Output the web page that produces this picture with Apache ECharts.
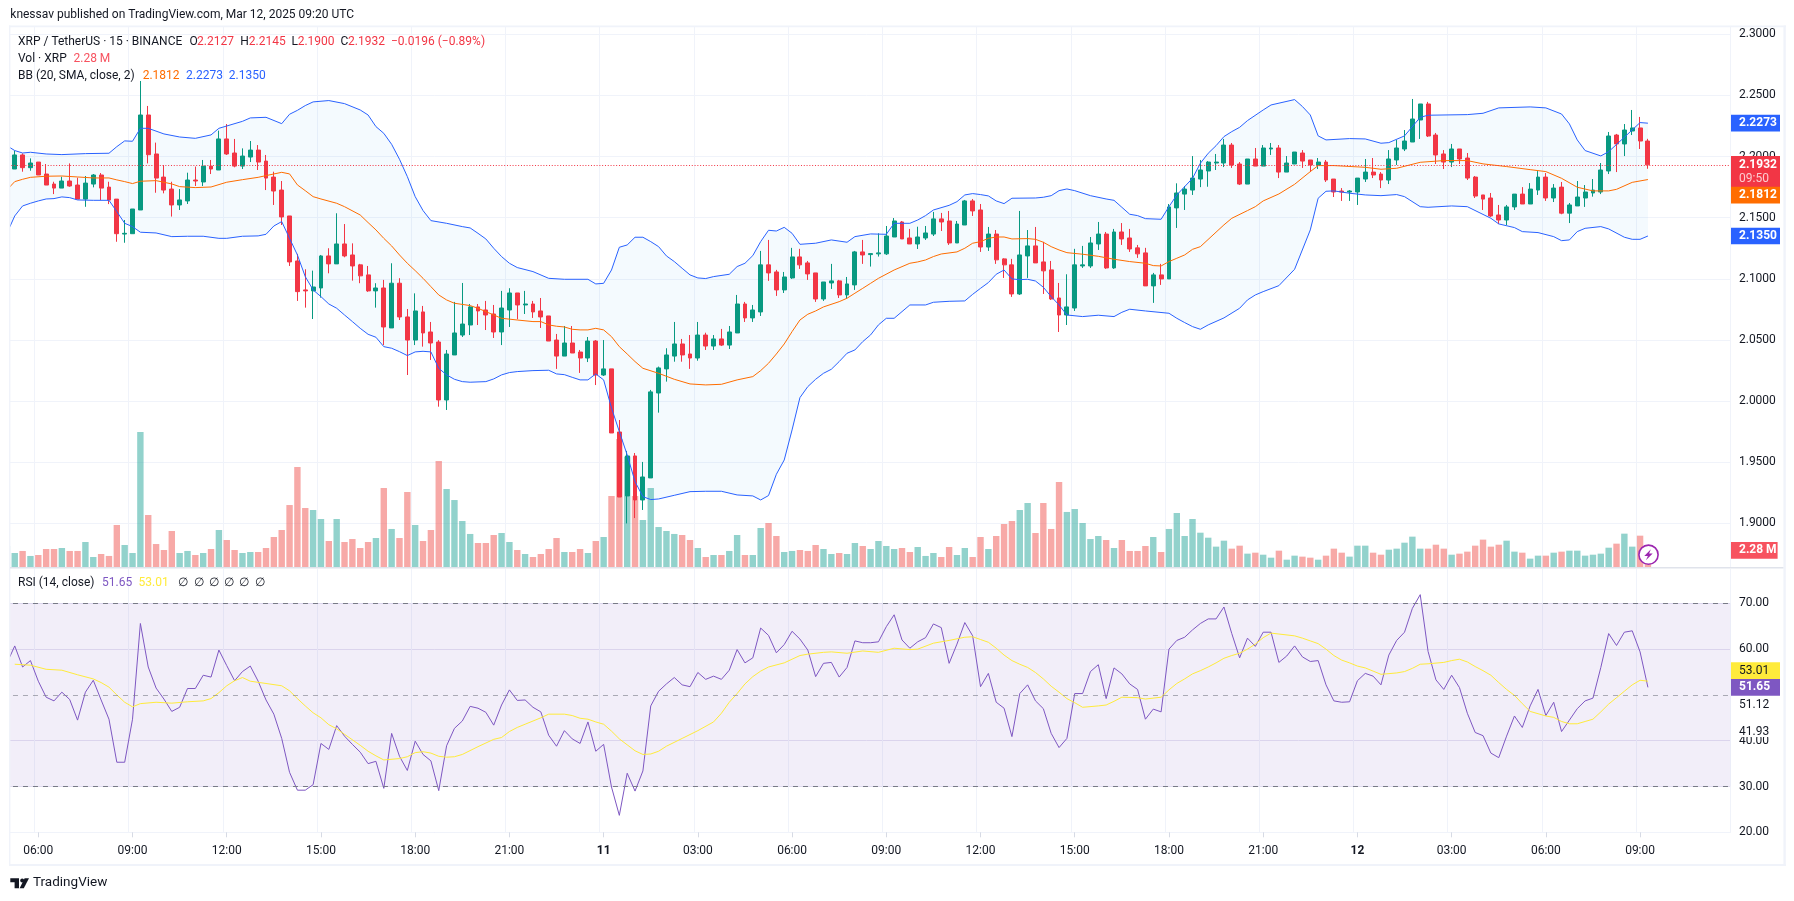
<!DOCTYPE html>
<html>
<head>
<meta charset="utf-8">
<title>XRP / TetherUS 15m</title>
<style>
  html, body { margin: 0; padding: 0; background: #fff; }
  #chart { width: 1794px; height: 901px; }
</style>
<script src="https://cdn.jsdelivr.net/npm/echarts@6/dist/echarts.min.js"></script>
</head>
<body>
<div id="chart"></div>
<script>
// [open, close, low, high], one row per 15 minute bar from Mar 10 05:00
const candles = [
[2.2,2.203,2.195,2.206],[2.1898,2.2013,2.1898,2.2048],[2.2013,2.1909,2.1876,2.2026],[2.1909,2.1947,2.1884,2.1985],[2.1955,2.1849,2.1849,2.1955],
[2.1857,2.1767,2.1767,2.1939],[2.1775,2.1742,2.1693,2.1794],[2.1742,2.18,2.1742,2.1835],[2.18,2.1759,2.1753,2.1944],[2.1767,2.1652,2.1652,2.1827],
[2.1652,2.1783,2.1589,2.1841],[2.1775,2.1849,2.1748,2.1857],[2.1849,2.1742,2.1644,2.1865],[2.175,2.1644,2.1611,2.1794],[2.1652,2.1369,2.1303,2.1652],
[2.1366,2.1372,2.1295,2.1481],[2.1369,2.1571,2.1369,2.1571],[2.1563,2.234,2.1563,2.2618],[2.234,2.2015,2.1944,2.2414],[2.2021,2.1824,2.1704,2.2114],
[2.1832,2.1726,2.1699,2.1931],[2.1734,2.1604,2.1509,2.1794],[2.1604,2.1645,2.1563,2.1734],[2.1637,2.1808,2.1612,2.1868],[2.1808,2.18,2.1759,2.1918],
[2.1792,2.1922,2.1759,2.1972],[2.1922,2.1898,2.1857,2.1972],[2.189,2.2144,2.189,2.2212],[2.2144,2.2021,2.2013,2.2266],[2.2029,2.1922,2.1912,2.2144],
[2.1922,2.2004,2.1898,2.2067],[2.1996,2.2053,2.1955,2.2127],[2.2053,2.1955,2.189,2.2094],[2.1963,2.1824,2.1726,2.2013],[2.1832,2.1718,2.1604,2.1876],
[2.1726,2.1506,2.144,2.18],[2.1514,2.1138,2.1105,2.1514],[2.1146,2.0895,2.0819,2.1204],[2.0909,2.0901,2.0764,2.1078],[2.0901,2.0933,2.0671,2.1067],
[2.0925,2.1187,2.0846,2.1195],[2.1187,2.1122,2.1045,2.125],[2.1122,2.1285,2.1122,2.1536],[2.1285,2.1187,2.1176,2.1448],[2.1195,2.1105,2.0985,2.129],
[2.1114,2.1024,2.0964,2.1122],[2.1032,2.0901,2.0893,2.1105],[2.0901,2.0925,2.0764,2.0964],[2.0925,2.0606,2.0458,2.0991],[2.0598,2.0964,2.0598,2.1127],
[2.0964,2.0688,2.0663,2.1005],[2.0688,2.0499,2.0213,2.0753],[2.0499,2.0737,2.0458,2.0881],[2.0729,2.0557,2.0445,2.0778],[2.0565,2.0475,2.0336,2.0647],
[2.0483,2.0009,1.9954,2.0499],[2.0009,2.0385,1.9927,2.0418],[2.0377,2.0557,2.0377,2.0811],[2.054,2.063,2.0524,2.0966],[2.0622,2.077,2.054,2.0794],
[2.077,2.0737,2.0622,2.0794],[2.0745,2.0704,2.0581,2.0819],[2.0712,2.0565,2.0516,2.0786],[2.0565,2.0761,2.0458,2.0901],[2.0745,2.0884,2.0606,2.0923],
[2.0884,2.0786,2.0669,2.0884],[2.0786,2.0794,2.0712,2.0901],[2.0794,2.0729,2.068,2.0819],[2.0737,2.0688,2.0598,2.0843],[2.0696,2.0491,2.0491,2.0696],
[2.0499,2.0368,2.0263,2.0549],[2.0368,2.0475,2.0368,2.0614],[2.0475,2.0393,2.0393,2.0614],[2.0401,2.0352,2.023,2.0418],[2.0352,2.0491,2.0319,2.0524],
[2.0491,2.0213,2.0131,2.0499],[2.0213,2.0263,2.0205,2.0499],[2.0263,1.9739,1.9739,2.0263],[1.9747,1.9215,1.9215,1.9845],[1.9224,1.9551,1.8999,1.9592],
[1.9551,1.9191,1.9043,1.9575],[1.9191,1.9379,1.9109,1.9502],[1.9371,2.0075,1.9371,2.0091],[2.0066,2.0271,1.9905,2.0282],[2.0263,2.0377,2.0159,2.0432],
[2.0368,2.0467,2.0322,2.0647],[2.0467,2.0377,2.0322,2.0508],[2.0385,2.0352,2.0263,2.054],[2.0352,2.054,2.033,2.0647],[2.054,2.045,2.0418,2.0559],
[2.045,2.0508,2.0418,2.054],[2.0508,2.0458,2.045,2.059],[2.0458,2.0565,2.0426,2.0614],[2.0557,2.0794,2.0557,2.0868],[2.0794,2.068,2.0647,2.0811],
[2.068,2.0745,2.0647,2.0786],[2.0729,2.1114,2.0696,2.1228],[2.1114,2.1048,2.0983,2.1318],[2.1056,2.0909,2.086,2.1073],[2.0909,2.1015,2.0884,2.1056],
[2.1007,2.1179,2.0999,2.1253],[2.1179,2.1114,2.1081,2.1245],[2.113,2.104,2.0991,2.1146],[2.1048,2.0835,2.0811,2.1048],[2.0835,2.0974,2.0819,2.0974],
[2.0966,2.0983,2.0917,2.1122],[2.0983,2.0868,2.0843,2.0991],[2.0868,2.0958,2.0835,2.1015],[2.095,2.122,2.0909,2.1228],[2.122,2.1195,2.1122,2.1318],
[2.1198,2.1206,2.11,2.1206],[2.1204,2.1212,2.1182,2.1372],[2.1204,2.135,2.1195,2.1432],[2.1342,2.1473,2.1342,2.1497],[2.1465,2.1326,2.1326,2.1473],
[2.1334,2.1285,2.1285,2.1408],[2.1285,2.1342,2.1244,2.1426],[2.1334,2.1375,2.1318,2.1432],[2.1366,2.149,2.135,2.1547],[2.149,2.1465,2.1391,2.1539],
[2.1473,2.1293,2.1277,2.1555],[2.1293,2.1448,2.1293,2.1473],[2.144,2.1637,2.144,2.1645],[2.1637,2.1555,2.1514,2.1653],[2.1563,2.126,2.122,2.1612],
[2.126,2.1366,2.1228,2.1424],[2.1366,2.1155,2.1122,2.1399],[2.1163,2.1114,2.1007,2.1168],[2.1114,2.0876,2.0852,2.1163],[2.0876,2.1195,2.0868,2.1555],
[2.1187,2.1269,2.1007,2.1399],[2.1269,2.113,2.113,2.1424],[2.1138,2.1065,2.0876,2.1302],[2.1073,2.0835,2.0827,2.1146],[2.0843,2.0704,2.0565,2.0966],
[2.0704,2.077,2.0622,2.1037],[2.0761,2.1114,2.0737,2.1245],[2.1105,2.1114,2.1089,2.1269],[2.1105,2.1293,2.1089,2.1342],[2.1285,2.1366,2.1236,2.1465],
[2.1366,2.1089,2.1081,2.1383],[2.1089,2.1383,2.1081,2.1408],[2.1383,2.1326,2.1277,2.1456],[2.1334,2.1244,2.122,2.1408],[2.1253,2.1204,2.1171,2.1277],
[2.1212,2.0942,2.0942,2.1253],[2.0942,2.1032,2.0803,2.1048],[2.1032,2.0999,2.095,2.1122],[2.0999,2.1588,2.0999,2.1612],[2.158,2.1702,2.1416,2.1781],
[2.1693,2.1734,2.1563,2.1759],[2.1726,2.1824,2.1686,2.2004],[2.1816,2.189,2.175,2.1972],[2.1882,2.1955,2.1753,2.1963],[2.1947,2.1955,2.189,2.2021],
[2.1947,2.2094,2.1914,2.2144],[2.2094,2.1931,2.1907,2.2111],[2.1939,2.1775,2.1767,2.1955],[2.1775,2.198,2.1775,2.198],[2.198,2.1922,2.1922,2.207],
[2.1922,2.207,2.1922,2.2094],[2.2062,2.207,2.2013,2.2111],[2.207,2.1873,2.1824,2.2094],[2.1873,2.1947,2.1873,2.2004],[2.1939,2.2037,2.1939,2.2037],
[2.2029,2.1963,2.1907,2.2053],[2.1972,2.1931,2.1873,2.1972],[2.1931,2.1955,2.1898,2.1988],[2.1955,2.1808,2.1792,2.1972],[2.1816,2.171,2.1669,2.1816],
[2.1718,2.171,2.1637,2.1742],[2.171,2.1718,2.1637,2.1726],[2.171,2.1824,2.1604,2.1824],[2.1816,2.1873,2.1792,2.198],[2.1873,2.1849,2.1824,2.1988],
[2.1857,2.1808,2.1742,2.1873],[2.1808,2.198,2.1775,2.2053],[2.1972,2.207,2.1931,2.2135],[2.2062,2.2127,2.2045,2.2217],[2.2119,2.2307,2.2119,2.2471],
[2.2299,2.243,2.2144,2.243],[2.243,2.2168,2.216,2.2447],[2.2176,2.2013,2.1939,2.2193],[2.2021,2.1955,2.1898,2.2053],[2.1955,2.2062,2.1914,2.2103],
[2.2062,2.198,2.1939,2.2062],[2.1988,2.1824,2.1808,2.2029],[2.1832,2.1677,2.1661,2.1841],[2.1686,2.1652,2.1563,2.1686],[2.1661,2.1514,2.1506,2.1702],
[2.1522,2.1481,2.1448,2.1604],[2.1481,2.1588,2.144,2.1604],[2.1588,2.1693,2.1563,2.1693],[2.1693,2.1612,2.1612,2.175],[2.1612,2.1734,2.1612,2.1783],
[2.1726,2.1832,2.1686,2.1881],[2.1832,2.1661,2.1637,2.1865],[2.1661,2.1742,2.1628,2.1775],[2.175,2.1537,2.1528,2.1792],[2.1537,2.1604,2.1456,2.162],
[2.1596,2.1669,2.1596,2.18],[2.1661,2.171,2.1588,2.1767],[2.1702,2.1726,2.1672,2.1816],[2.171,2.189,2.1693,2.1947],[2.1882,2.2168,2.1857,2.2201],
[2.2176,2.2103,2.1873,2.2185],[2.2103,2.2217,2.2004,2.2266],[2.2209,2.2234,2.2176,2.2381],[2.2234,2.2127,2.2062,2.2324],[2.2127,2.1932,2.19,2.2145]
];

// volume per bar, millions of XRP
const volumes = [
2.82,1.88,2.15,1.48,1.61,2.41,2.41,2.55,2.15,2.15,3.35,1.34,1.74,1.48,5.63,2.95,1.88,18.1,6.97,3.08,
2.28,4.83,1.88,2.15,1.61,1.88,2.41,4.96,3.62,2.28,1.88,2.01,2.01,2.55,4.02,4.96,8.31,13.41,7.91,7.64,
6.44,3.49,6.44,3.35,3.75,2.55,3.35,3.89,10.59,5.10,3.89,10.06,5.63,3.49,4.96,14.21,10.46,8.98,6.17,4.43,
3.22,3.22,4.29,4.56,3.35,2.28,1.74,1.34,1.74,2.41,3.89,2.01,2.01,2.41,1.88,3.49,4.02,9.52,17.16,14.8,
9.52,6.3,10.59,5.36,4.83,4.43,4.29,3.62,2.55,1.34,1.61,1.61,2.15,4.29,1.61,1.61,5.23,5.9,4.16,2.01,
2.15,2.28,2.15,2.95,2.41,1.74,1.88,1.74,3.22,2.82,2.41,3.49,2.82,2.41,2.55,2.01,2.68,1.48,1.88,1.34,
2.68,1.61,2.55,1.34,4.02,2.41,4.16,5.77,6.17,7.64,8.58,4.56,8.58,5.10,11.4,7.38,7.78,5.9,3.75,4.16,
3.62,2.55,3.62,2.15,2.15,2.82,4.02,2.01,5.10,7.24,4.16,6.44,4.6,3.93,2.73,3.53,2.46,2.86,1.79,1.92,
1.65,1.25,2.19,0.98,1.52,1.39,1.25,0.98,1.52,2.46,1.92,1.39,2.86,2.86,1.92,1.65,2.32,2.46,3.26,4.07,
2.46,2.46,2.99,2.46,1.65,1.79,2.06,2.86,3.67,2.73,2.99,3.53,2.06,1.92,1.12,1.52,1.52,1.92,2.06,2.19,
2.19,1.52,1.65,1.79,2.59,3.13,4.47,2.73,4.2,2.28
];

// Bollinger bands, [bar index, price] at the points
const bbUpper = [
[0,2.2089],[1,2.2049],[2,2.2029],[3,2.2035],[5,2.2021],[7,2.2016],[10,2.2024],[13,2.2027],[14,2.2081],[15,2.2128],[16,2.2125],[17,2.2231],[18,2.2231],[20,2.2185],[22,2.216],[24,2.2149],[26,2.2177],[27,2.2231],[28,2.225],[30,2.2288],[31,2.2316],[33,2.2321],[35,2.2269],[36,2.2346],[37,2.2378],[38,2.2417],[39,2.2447],[41,2.2458],[43,2.2433],[45,2.2381],[46,2.234],[47,2.2245],[48,2.219],[49,2.21],[50,2.1978],[51,2.1836],[52,2.1672],[53,2.1558],[54,2.1476],[56,2.1454],[58,2.1427],[59,2.1416],[60,2.1372],[61,2.1326],[62,2.125],[63,2.1182],[64,2.1127],[65,2.1092],[67,2.1059],[69,2.1004],[71,2.0996],[74,2.0996],[75,2.0958],
[76,2.0963],[77,2.1072],[78,2.1258],[79,2.1277],[80,2.134],[81,2.134],[82,2.1304],[83,2.1263],[84,2.1187],[85,2.1141],[86,2.1086],[87,2.1032],[88,2.1007],[89,2.1002],[90,2.1018],[92,2.1037],[93,2.11],[94,2.1127],[95,2.119],[96,2.1304],[97,2.1397],[98,2.1391],[99,2.1421],[100,2.1372],[101,2.1282],[103,2.1291],[105,2.1318],[107,2.1299],[108,2.1345],[110,2.1367],[112,2.1364],[113,2.1454],[115,2.1454],[116,2.1481],[117,2.1517],[118,2.1563],[120,2.1601],[121,2.1631],[122,2.1686],[123,2.1697],[124,2.1689],[125,2.1678],[126,2.1637],[127,2.1615],[128,2.1659],[131,2.1661],[132,2.1667],[133,2.168],[134,2.1721],[135,2.1735],[136,2.1721],[138,2.168],[140,2.1653],[141,2.1642],[142,2.1585],[143,2.1528],[144,2.1517],[145,2.1492],[147,2.1487],[148,2.159],[149,2.1686],[151,2.1822],[152,2.1945],[153,2.2027],[154,2.2089],[155,2.2163],[156,2.2204],[157,2.2239],[158,2.2294],[160,2.2381],[161,2.2422],[164,2.2466],[165,2.2409],[166,2.234],[167,2.2169],[168,2.2136],[171,2.2147],[173,2.2144],[175,2.2109],[176,2.2114],[178,2.2169],[180,2.2321],[181,2.2338],[186,2.2343],[188,2.2354],[190,2.2398],[194,2.2406],[196,2.2398],[198,2.2348],[199,2.2267],[200,2.2136],[201,2.2049],[203,2.2005],[204,2.204],[206,2.2158],[208,2.2278],[209,2.2273]
];
const bbLower = [
[0,2.1372],[1,2.1514],[2,2.1596],[3,2.1618],[4,2.1637],[5,2.1653],[6,2.1656],[7,2.167],[8,2.1664],[9,2.1645],[11,2.1642],[13,2.1642],[14,2.155],[15,2.1454],[16,2.1427],[17,2.1381],[19,2.1375],[21,2.1345],[23,2.1348],[25,2.1348],[27,2.1331],[28,2.1331],[30,2.1348],[32,2.1351],[33,2.1364],[34,2.1432],[35,2.1468],[36,2.1331],[37,2.1195],[38,2.1018],[39,2.0909],[40,2.0854],[41,2.0794],[42,2.0759],[43,2.0704],[44,2.065],[45,2.0595],[46,2.0546],[47,2.0522],[48,2.0445],[49,2.0432],[50,2.0404],[51,2.0372],[52,2.0402],[53,2.0407],[54,2.0402],[55,2.0268],[56,2.0214],[57,2.0178],[58,2.0159],[59,2.0154],[61,2.0159],[62,2.0181],[63,2.0214],[64,2.0233],[65,2.0241],[67,2.0249],[69,2.0252],[70,2.0222],[71,2.0216],[72,2.0194],[73,2.0173],[74,2.0173],[75,2.0222],
[76,2.0173],[77,1.9944],[78,1.975],[79,1.9559],[80,1.9341],[81,1.9218],[82,1.9194],[83,1.9199],[85,1.9229],[87,1.9259],[89,1.9262],[91,1.9262],[93,1.9232],[95,1.9224],[96,1.9191],[97,1.9227],[98,1.9401],[99,1.9518],[100,1.9764],[101,2.0028],[102,2.0118],[103,2.0178],[104,2.0227],[105,2.026],[106,2.0323],[107,2.0391],[108,2.0418],[109,2.0486],[110,2.0541],[111,2.0623],[112,2.0677],[113,2.0677],[115,2.0786],[117,2.0786],[118,2.0808],[120,2.0816],[122,2.0819],[123,2.0873],[124,2.0922],[125,2.0969],[126,2.1037],[127,2.1072],[128,2.0999],[129,2.0993],[130,2.0996],[131,2.0982],[132,2.0931],[133,2.0854],[134,2.0786],[135,2.0704],[137,2.0691],[139,2.0702],[141,2.0691],[142,2.0726],[143,2.0751],[145,2.0737],[148,2.0718],[149,2.0677],[150,2.0642],[151,2.0609],[152,2.0587],[153,2.0623],[155,2.068],[157,2.0759],[158,2.0827],[159,2.0868],[160,2.0895],[162,2.0944],[164,2.1078],[166,2.14],[167,2.1659],[168,2.1716],[169,2.1719],[171,2.17],[173,2.1686],[175,2.168],[177,2.1689],[178,2.1672],[180,2.159],[181,2.1585],[184,2.1596],[186,2.159],[189,2.1495],[190,2.1449],[192,2.1419],[193,2.1386],[195,2.1378],[197,2.1345],[198,2.1312],[199,2.1318],[200,2.1386],[201,2.1413],[203,2.1427],[204,2.1408],[206,2.134],[207,2.1323],[208,2.1323],[209,2.135]
];
const bbBasis = [
[0,2.1727],[1,2.1795],[2,2.1814],[3,2.183],[5,2.1839],[7,2.1841],[9,2.1833],[11,2.1825],[13,2.1825],[14,2.1809],[15,2.1795],[16,2.1779],[17,2.1798],[19,2.1803],[21,2.1776],[22,2.1754],[24,2.1746],[26,2.1751],[28,2.179],[30,2.1811],[32,2.183],[33,2.1844],[35,2.1871],[36,2.1858],[37,2.1768],[38,2.1721],[39,2.1672],[40,2.1653],[42,2.1618],[43,2.159],[45,2.1522],[46,2.146],[47,2.14],[48,2.1331],[49,2.1269],[50,2.1195],[51,2.1127],[52,2.1067],[53,2.1004],[54,2.0936],[55,2.0868],[56,2.0827],[57,2.08],[59,2.0781],[60,2.0759],[62,2.0704],[63,2.0677],[65,2.0663],[67,2.065],[68,2.065],[69,2.0623],[70,2.0612],[71,2.0606],[72,2.0587],[73,2.0582],[74,2.0582],[75,2.0595],
[76,2.0582],[77,2.0527],[78,2.0445],[79,2.0385],[80,2.0323],[81,2.0268],[83,2.0227],[85,2.0178],[87,2.014],[89,2.0132],[91,2.0137],[93,2.0173],[95,2.02],[96,2.0249],[97,2.0309],[98,2.0385],[99,2.0467],[100,2.0568],[101,2.0663],[102,2.071],[103,2.0737],[104,2.077],[106,2.0813],[107,2.0841],[108,2.0882],[109,2.0922],[110,2.0963],[111,2.1004],[113,2.1072],[115,2.1127],[116,2.1138],[117,2.1154],[118,2.1182],[119,2.1203],[121,2.122],[122,2.125],[123,2.1291],[124,2.1304],[125,2.1331],[126,2.1342],[127,2.1342],[128,2.1326],[130,2.1329],[131,2.1323],[132,2.1299],[133,2.1263],[134,2.1236],[135,2.1214],[137,2.1201],[139,2.1184],[141,2.116],[143,2.1141],[145,2.1127],[146,2.1108],[147,2.1105],[148,2.1141],[149,2.1168],[150,2.1195],[151,2.1241],[152,2.1263],[155,2.1441],[156,2.1495],[158,2.1558],[159,2.159],[160,2.1637],[162,2.1694],[164,2.1773],[166,2.1877],[167,2.1926],[169,2.1926],[173,2.1912],[175,2.1896],[177,2.1904],[180,2.1953],[183,2.1967],[186,2.1967],[188,2.194],[191,2.1918],[194,2.1893],[196,2.1877],[198,2.1822],[200,2.1749],[202,2.1719],[204,2.1719],[205,2.1732],[207,2.1789],[209,2.1812]
];

// RSI per bar
const rsiValues = [
56.9,60.7,56.1,57.5,53.0,49.5,48.7,50.6,49.0,44.5,50.6,53.2,48.9,44.7,35.3,35.3,44.7,65.6,56.1,51.5,
49.1,46.4,47.3,51.4,51.4,54.3,53.9,59.8,56.4,53.1,55.1,56.3,53.0,48.9,45.8,40.5,33.1,29.2,29.2,30.4,
39.4,38.1,43.3,41.0,39.2,37.5,35.0,35.5,29.6,41.6,36.6,33.5,39.9,37.0,35.6,29.1,38.9,42.7,44.3,47.5,
47.1,46.2,43.4,47.8,51.1,48.8,48.9,47.3,46.3,41.2,38.8,42.2,40.4,39.4,44.1,37.7,39.2,29.9,23.7,32.9,
29.0,33.4,47.6,50.8,52.4,53.8,52.2,51.8,54.9,53.4,54.1,53.4,55.4,59.9,57.0,58.1,64.6,63.0,59.2,61.0,
63.9,62.2,59.8,54.0,56.9,57.1,53.9,56.0,61.8,61.4,61.4,61.6,64.9,67.5,62.0,60.2,61.6,62.5,65.5,64.7,
56.9,61.1,65.8,62.9,51.8,54.7,48.4,47.1,40.9,50.3,52.2,48.7,47.0,41.6,38.5,40.5,50.3,50.3,55.1,56.6,
49.2,55.9,54.6,52.4,51.2,44.7,46.9,46.3,60.0,61.9,62.6,64.2,65.6,66.6,66.6,69.2,63.4,58.1,62.4,60.6,
63.7,63.7,57.1,58.5,60.7,58.3,57.3,57.5,52.2,48.7,48.4,48.5,53.1,54.7,54.1,52.2,58.7,61.9,63.7,68.9,
71.9,59.5,53.3,51.2,54.3,51.6,46.0,41.8,41.1,37.3,36.3,41.0,45.4,42.9,47.6,51.2,45.5,48.4,42.0,44.5,
47.0,48.7,49.3,56.0,63.4,60.8,63.7,64.0,59.4,51.65
];

// RSI moving average, [bar index, value]
const rsiMa = [
[1,56.7],[3,56.5],[5,55.6],[7,55.4],[9,54.4],[11,53.5],[12,52.7],[13,51.7],[14,50.0],[15,48.4],[16,47.4],[17,48.1],[19,48.4],[21,48.2],[23,48.5],[25,48.7],[26,49.2],[27,50.5],[28,52.0],[29,53.1],[30,53.8],[31,53.0],[33,52.5],[35,52.0],[36,50.9],[37,49.2],[38,47.6],[39,46.1],[40,45.0],[41,43.5],[42,42.6],[43,41.4],[45,39.0],[46,37.7],[47,36.7],[48,35.8],[50,36.1],[51,36.5],[52,37.4],[53,37.6],[54,37.3],[55,36.6],[56,36.4],[57,36.5],[58,37.0],[60,38.7],[62,40.3],[63,40.7],[64,42.0],[65,42.9],[66,43.6],[68,45.0],[69,45.8],[71,45.8],[72,45.5],[73,44.9],[74,44.7],[75,44.1],
[76,43.6],[77,42.1],[78,40.4],[79,39.1],[80,37.8],[81,37.0],[82,37.1],[83,37.7],[84,38.8],[86,40.5],[88,42.2],[90,44.1],[91,46.0],[92,48.4],[93,50.3],[94,52.4],[95,54.0],[96,55.2],[97,56.1],[99,57.0],[100,57.8],[101,58.6],[102,58.9],[104,59.3],[105,59.4],[107,59.1],[109,59.6],[111,59.3],[113,60.2],[115,59.9],[116,60.0],[118,61.3],[120,61.9],[122,62.6],[123,62.7],[124,62.1],[125,61.5],[126,60.2],[127,58.7],[128,57.5],[129,56.7],[130,56.0],[131,54.9],[132,53.5],[133,51.9],[134,50.6],[135,49.2],[136,48.3],[137,47.3],[139,47.6],[140,47.8],[141,48.6],[142,49.5],[144,49.4],[145,49.1],[147,49.5],[148,51.1],[149,52.5],[150,53.5],[151,54.6],[152,55.3],
[153,56.1],[154,57.0],[155,58.0],[156,58.6],[157,59.1],[158,60.0],[159,61.1],[160,62.5],[161,63.5],[162,63.3],[164,62.9],[165,62.4],[166,61.8],[167,61.2],[168,60.0],[169,58.6],[170,57.6],[171,57.0],[172,56.3],[173,55.9],[174,55.2],[175,54.5],[177,54.8],[178,55.1],[179,55.8],[180,56.7],[181,56.8],[183,57.1],[184,57.5],[185,57.8],[186,57.2],[187,56.2],[188,55.3],[189,54.3],[190,52.7],[191,51.2],[192,49.9],[193,48.1],[194,46.4],[195,45.9],[196,45.4],[197,45.1],[198,44.2],[199,43.7],[200,43.7],[201,44.2],[202,44.7],[203,46.3],[204,48.0],[205,49.4],[206,50.8],[207,52.2],[208,53.2],[209,53.01]
];

const priceTicks = [1.9, 1.95, 2.0, 2.05, 2.1, 2.15, 2.2, 2.25, 2.3];
const rsiTicks = [20, 30, 40, 60, 70];

// time axis: 220 slots of 15 minutes, the last ten stay empty
const BAR_COUNT = 220;
const categories = [];
for (let i = 0; i < BAR_COUNT; i++) {
  const mins = 5 * 60 + 15 * i;
  const day = 10 + Math.floor(mins / 1440);
  const m = mins % 1440;
  const hh = String(Math.floor(m / 60)).padStart(2, "0");
  const mm = String(m % 60).padStart(2, "0");
  categories.push(m === 0 ? String(day) : hh + ":" + mm);
}
const isTick = (i) => (i - 4) % 12 === 0;

const UP = "#089981";
const DOWN = "#F23645";
const GRID = "#F0F3FA";
const FONT = "Roboto, 'Liberation Sans', Arial, sans-serif";

const GRID_LEFT = 2.97;
const GRID_W = 1727.4;

const chart = echarts.init(document.getElementById("chart"), null, { renderer: "canvas" });

const option = {
  animation: false,
  backgroundColor: "#fff",
  textStyle: { fontFamily: FONT },
  grid: [
    { left: GRID_LEFT, width: GRID_W, top: 27, height: 540 },
    { left: GRID_LEFT, width: GRID_W, top: 569, height: 263.3 }
  ],
  xAxis: [
    {
      type: "category", gridIndex: 0, data: categories, boundaryGap: true,
      axisLine: { show: false }, axisTick: { show: false }, axisLabel: { show: false },
      splitLine: { show: true, interval: (i) => isTick(i), lineStyle: { color: GRID, width: 1 } }
    },
    {
      type: "category", gridIndex: 1, data: categories, boundaryGap: true,
      axisLine: { show: true, lineStyle: { color: GRID } },
      axisTick: { show: true, alignWithLabel: true, interval: (i) => isTick(i), length: 5, lineStyle: { color: "#D6DAE4" } },
      axisLabel: {
        interval: (i) => isTick(i), margin: 13, fontSize: 12, color: "#131722", fontFamily: FONT,
        formatter: (v) => (v.length <= 2 ? "{day|" + v + "}" : v),
        rich: { day: { fontWeight: "bold", fontSize: 12, color: "#131722", fontFamily: FONT } }
      },
      splitLine: { show: true, interval: (i) => isTick(i), lineStyle: { color: GRID, width: 1 } }
    }
  ],
  yAxis: [
    {
      type: "value", gridIndex: 0, position: "right", scale: false, min: 1.86426, max: 2.30597,
      axisLine: { show: false },
      axisTick: { show: false, customValues: priceTicks },
      axisLabel: {
        customValues: priceTicks, margin: 8.6, fontSize: 12, color: "#131722", fontFamily: FONT,
        formatter: (v) => v.toFixed(4)
      },
      splitLine: { show: true, lineStyle: { color: GRID, width: 1 } }
    },
    { type: "value", gridIndex: 0, position: "left", min: 0, max: 72.41, show: false, splitLine: { show: false } },
    {
      type: "value", gridIndex: 1, position: "right", min: 20, max: 77.5,
      axisLine: { show: false },
      axisTick: { show: false, customValues: rsiTicks },
      axisLabel: {
        customValues: rsiTicks, margin: 8.6, fontSize: 12, color: "#131722", fontFamily: FONT,
        formatter: (v) => v.toFixed(2)
      },
      splitLine: { show: true, lineStyle: { color: "#E6E2F2", width: 1 } }
    }
  ],
  series: [
    {
      type: "custom", xAxisIndex: 0, yAxisIndex: 0, z: 1, silent: true, clip: true,
      data: [[0, 2]],
      renderItem: (params, api) => ({
        type: "polygon",
        shape: { points: bbUpper.concat(bbLower.slice().reverse()).map((d) => api.coord(d)) },
        style: { fill: "rgba(33,150,243,0.05)" }
      })
    },
    {
      type: "bar", name: "Vol", xAxisIndex: 0, yAxisIndex: 1, z: 2, barWidth: 6.4, silent: true,
      data: volumes.map((v, i) => ({
        value: v,
        itemStyle: { color: candles[i][1] >= candles[i][0] ? "rgba(38,166,154,0.5)" : "rgba(239,83,80,0.5)" }
      }))
    },
    {
      type: "candlestick", name: "XRP", xAxisIndex: 0, yAxisIndex: 0, z: 3, barWidth: 4.4,
      data: candles,
      itemStyle: { color: UP, color0: DOWN, borderColor: UP, borderColor0: DOWN, borderWidth: 1 }
    },
    { type: "line", name: "BB upper", xAxisIndex: 0, yAxisIndex: 0, z: 4, data: bbUpper, showSymbol: false, lineStyle: { color: "#2962FF", width: 1 }, silent: true },
    { type: "line", name: "BB lower", xAxisIndex: 0, yAxisIndex: 0, z: 4, data: bbLower, showSymbol: false, lineStyle: { color: "#2962FF", width: 1 }, silent: true },
    {
      type: "line", name: "BB basis", xAxisIndex: 0, yAxisIndex: 0, z: 4, data: bbBasis, showSymbol: false, lineStyle: { color: "#FF6D00", width: 1 }, silent: true,
      // last price line, markLine rounds to 2 decimals unless told otherwise
      markLine: {
        silent: true, symbol: "none", animation: false, precision: 4,
        data: [{ yAxis: 2.1932 }],
        label: { show: false },
        lineStyle: { color: DOWN, type: [1, 1.8], width: 1 }
      }
    },
    {
      type: "line", name: "RSI", xAxisIndex: 1, yAxisIndex: 2, z: 4, data: rsiValues, showSymbol: false, silent: true,
      lineStyle: { color: "#7E57C2", width: 1 },
      markArea: {
        silent: true, animation: false,
        itemStyle: { color: "rgba(126,87,194,0.1)" },
        data: [[{ yAxis: 70 }, { yAxis: 30 }]]
      },
      markLine: {
        silent: true, symbol: "none", animation: false, label: { show: false },
        data: [
          { yAxis: 70, lineStyle: { color: "#787B86", type: [5, 5], width: 1 } },
          { yAxis: 50, lineStyle: { color: "rgba(120,123,134,0.6)", type: [5, 5], width: 1 } },
          { yAxis: 30, lineStyle: { color: "#787B86", type: [5, 5], width: 1 } }
        ]
      }
    },
    { type: "line", name: "RSI MA", xAxisIndex: 1, yAxisIndex: 2, z: 4, data: rsiMa, showSymbol: false, silent: true, lineStyle: { color: "#FFEB3B", width: 1 } }
  ]
};
chart.setOption(option);

// header rows, each piece placed where it starts in the picture
const INK = "#131722";
const legendPieces = [
  [18, 41.7, "XRP / TetherUS · 15 · BINANCE", INK], [189.4, 41.7, "O", INK], [197, 41.7, "2.2127", DOWN], [240.3, 41.7, "H", INK], [248.8, 41.7, "2.2145", DOWN],
  [291.6, 41.7, "L", INK], [297.7, 41.7, "2.1900", DOWN], [340.6, 41.7, "C", INK], [348, 41.7, "2.1932", DOWN], [391, 41.7, "−0.0196 (−0.89%)", DOWN],
  [18, 59, "Vol · XRP", INK], [73.5, 59, "2.28 M", "#F7525F"],
  [18, 76, "BB (20, SMA, close, 2)", INK], [142.7, 76, "2.1812", "#FF6D00"], [186, 76, "2.2273", "#2962FF"], [228.8, 76, "2.1350", "#2962FF"],
  [18, 582.7, "RSI (14, close)", INK], [102, 582.7, "51.65", "#7E57C2"], [138.5, 582.7, "53.01", "#FFEB3B"],
  [178, 582.7, "∅", INK], [193.5, 582.7, "∅", INK], [208.5, 582.7, "∅", INK], [223.5, 582.7, "∅", INK], [238.5, 582.7, "∅", INK], [254.5, 582.7, "∅", INK]
];

// price scale tags, sitting on the axis at the value they show
const TAG_X = 1731, TAG_W = 49, TAG_H = 16.7;
const tagLeft = 1739;
const priceTags = [
  { axis: 0, value: 2.2273, text: "2.2273", fill: "#2962FF", color: "#fff", shift: 0 },
  { axis: 0, value: 2.135, text: "2.1350", fill: "#2962FF", color: "#fff", shift: 0 },
  { axis: 0, value: 2.1812, text: "2.1812", fill: "#FF6D00", color: "#fff", shift: 15.5 },
  { axis: 2, value: 53.01, text: "53.01", fill: "#FFEB3B", color: INK, shift: -10.5 },
  { axis: 2, value: 51.65, text: "51.65", fill: "#7E57C2", color: "#fff", shift: 0 }
];
const yOf = (axis, v) => chart.convertToPixel({ yAxisIndex: axis }, v);

const label = (x, y, text, extra) => ({
  type: "text", x, y, z: 100, silent: true,
  style: Object.assign({ text, fill: INK, font: "12px " + FONT, textVerticalAlign: "middle" }, extra || {})
});

const elements = [
  // mask: the 05:00 bar falls outside the pane
  { type: "rect", z: 90, silent: true, shape: { x: 0, y: 27, width: 9.8, height: 806 }, style: { fill: "#fff" } },
  // frame
  { type: "rect", z: 91, silent: true, shape: { x: 9, y: 25.5, width: 1777, height: 1.8 }, style: { fill: GRID } },
  { type: "rect", z: 91, silent: true, shape: { x: 9, y: 864, width: 1777, height: 2 }, style: { fill: GRID } },
  { type: "rect", z: 91, silent: true, shape: { x: 9, y: 25.5, width: 1.4, height: 840 }, style: { fill: GRID } },
  { type: "rect", z: 91, silent: true, shape: { x: 1783.4, y: 25.5, width: 2.4, height: 840 }, style: { fill: GRID } },
  { type: "rect", z: 91, silent: true, shape: { x: 10, y: 567, width: 1773.4, height: 1.4 }, style: { fill: "#E0E3EB" } },

  label(10.3, 15, "knessav published on TradingView.com, Mar 12, 2025 09:20 UTC"),

  // last price tag with the countdown
  { type: "rect", z: 95, silent: true, shape: { x: TAG_X, y: 156, width: TAG_W, height: 31 }, style: { fill: DOWN } },
  label(tagLeft, yOf(0, 2.1932), "2.1932", { fill: "#fff", font: "bold 12px " + FONT }),
  label(tagLeft, 178.7, "09:50", { fill: "#fff", opacity: 0.75 }),

  // volume tag
  { type: "rect", z: 95, silent: true, shape: { x: TAG_X, y: 542, width: 46.6, height: TAG_H }, style: { fill: "#F7525F" } },
  label(tagLeft, 550.4, "2.28 M", { fill: "#fff", font: "bold 12px " + FONT }),

  // plain RSI scale values
  label(tagLeft, 704.7, "51.12"),
  { type: "rect", z: 95, silent: true, shape: { x: tagLeft - 3, y: 724, width: 36, height: 13 }, style: { fill: "#fff" } },
  label(tagLeft, yOf(2, 41.93), "41.93"),

  // lightning badge on the last bar
  { type: "circle", z: 96, silent: true, shape: { cx: 1648.5, cy: 554.7, r: 9.6 }, style: { fill: "#fff", stroke: "#9C27B0", lineWidth: 1.6 } },
  {
    type: "polygon", z: 97, silent: true,
    shape: { points: [[1650.9, 549.2], [1644.3, 556], [1647.9, 556], [1645.9, 560.2], [1652.7, 553.4], [1649.1, 553.4]] },
    style: { fill: "#9C27B0" }
  },

  // TradingView mark
  { type: "polygon", z: 100, silent: true, shape: { points: [[10.3, 878.3], [19, 878.3], [19, 888.3], [14.6, 888.3], [14.6, 882.3], [10.3, 882.3]] }, style: { fill: INK } },
  { type: "circle", z: 100, silent: true, shape: { cx: 22.2, cy: 880.4, r: 2 }, style: { fill: INK } },
  { type: "polygon", z: 100, silent: true, shape: { points: [[24.6, 878.3], [29, 878.3], [23.8, 888.3], [19.6, 888.3]] }, style: { fill: INK } },
  label(33, 883, "TradingView", { font: "13.5px " + FONT })
];

legendPieces.forEach((p) => elements.push(label(p[0], p[1], p[2], { fill: p[3] })));

priceTags.forEach((t) => {
  const cy = yOf(t.axis, t.value) + t.shift;
  elements.push({
    type: "rect", z: 95, silent: true,
    shape: { x: TAG_X, y: cy - TAG_H / 2, width: TAG_W, height: TAG_H },
    style: { fill: t.fill }
  });
  elements.push(label(tagLeft, cy, t.text, { fill: t.color, font: (t.color === "#fff" ? "bold " : "") + "12px " + FONT }));
});

chart.setOption({ graphic: { elements } });
</script>
</body>
</html>
